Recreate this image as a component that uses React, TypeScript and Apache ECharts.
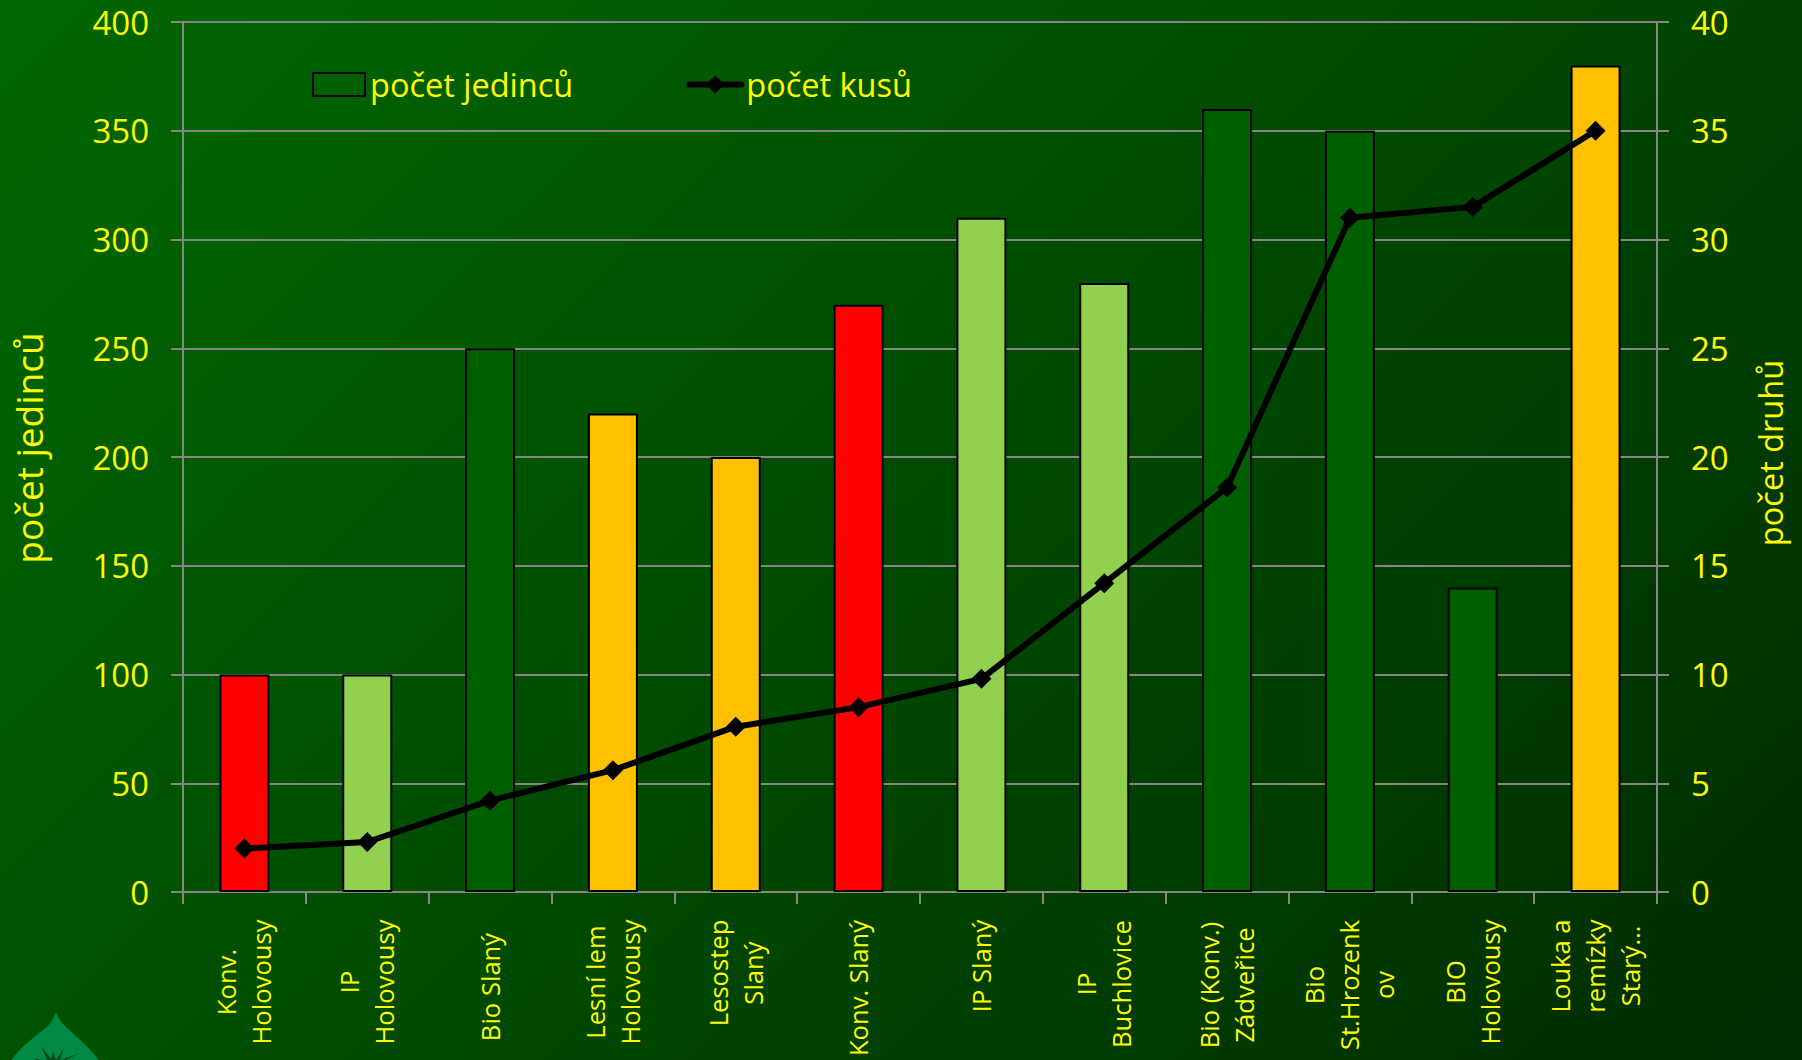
import React, { useEffect, useRef } from "react";
import * as echarts from "echarts";

const categories = [
  "Konv.\nHolovousy", "IP\nHolovousy", "Bio Slaný", "Lesní lem\nHolovousy", "Lesostep\nSlaný", "Konv. Slaný",
  "IP Slaný", "IP\nBuchlovice", "Bio (Konv.)\nZádveřice", "Bio\nSt.Hrozenk\nov", "BIO\nHolovousy", "Louka a\nremízky\nStarý…",
];
const jedincu = [100, 100, 250, 220, 200, 270, 310, 280, 360, 350, 140, 380];
const kusu = [2, 2.3, 4.2, 5.6, 7.6, 8.5, 9.8, 14.2, 18.6, 31, 31.5, 35];
const RED = "#FF0000", LIGHT = "#92D050", DARK = "#006000", ORANGE = "#FFC000";
const barColors = [RED, LIGHT, DARK, ORANGE, ORANGE, RED, LIGHT, LIGHT, DARK, DARK, DARK, ORANGE];
const labelCentreShift = [16, 16, 21, 16, 7, 22, 0, 18, 19, 19, 16, 0];

const FONT = "'Open Sans'";
const YELLOW = "#FFFF00";
const GREY = "#868686";

const leafD =
  "M56 1012 C60 1024 70 1030 78 1038 C86 1045 93 1052 100 1062 L10 1062 C18 1050 28 1042 38 1034 C46 1028 52 1024 56 1012 Z";
const veinsD =
  "M41 1046 L52 1060 L47 1060 Z M64 1048 L60 1060 L56 1060 Z M53 1051 L56 1060 L51 1060 Z M80 1053 L66 1060 L61 1060 Z M34 1058 L42 1060 L36 1060 Z";

export default function App() {
  const ref = useRef<HTMLDivElement>(null);
  useEffect(() => {
    document.body.style.margin = "0";
    echarts.graphic.registerShape("leafShape", echarts.graphic.extendPath(leafD, {}) as any);
    echarts.graphic.registerShape("veinShape", echarts.graphic.extendPath(veinsD, {}) as any);
    const chart = echarts.init(ref.current!, undefined, { renderer: "svg" });
    const yAxisCommon = {
      type: "value" as const,
      nameLocation: "middle" as const,
      nameRotate: 90,
      axisLine: { show: true, lineStyle: { color: GREY, width: 2 } },
      axisTick: { show: true, length: 12, lineStyle: { color: GREY, width: 2 } },
      nameTextStyle: { color: YELLOW, fontFamily: FONT, fontSize: 32 },
    };
    chart.setOption({
      animation: false,
      backgroundColor: new echarts.graphic.LinearGradient(0, 0, 1431, 1431, [
        { offset: 0, color: "#006500" },
        { offset: 0.15, color: "#006000" },
        { offset: 1, color: "#002C00" },
      ], true),
      graphic: [
        { type: "leafShape", x: 0, y: 0, silent: true, z: 0, style: { fill: "#008A45" } },
        { type: "veinShape", x: 0, y: 0, silent: true, z: 1, style: { fill: "#034A1C" } },
      ],
      legend: {
        left: 307,
        top: 63,
        itemGap: 113,
        itemWidth: 52,
        itemHeight: 23,
        textStyle: { color: YELLOW, fontFamily: FONT, fontSize: 32.5 },
        data: [
          { name: "počet jedinců", icon: "rect", itemStyle: { color: "#006000", borderColor: "#000", borderWidth: 2 } },
          { name: "počet kusů", lineStyle: { color: "#000", width: 6, cap: "round" } },
        ],
      },
      grid: { left: 183, right: 145, top: 22, bottom: 168, outerBoundsMode: "none" },
      xAxis: {
        type: "category",
        data: categories.map((c, i) => ({
          value: c,
          textStyle: { align: "center", verticalAlign: "middle", padding: [0, labelCentreShift[i] * 2, 0, 0] },
        })),
        axisLine: { lineStyle: { color: GREY, width: 2 } },
        axisTick: { show: true, alignWithLabel: false, length: 12, lineStyle: { color: GREY, width: 2 } },
        axisLabel: {
          interval: 0,
          rotate: 90,
          align: "center",
          verticalAlign: "middle",
          margin: 74,
          color: YELLOW,
          fontFamily: FONT,
          fontSize: 25.6,
          lineHeight: 35,
          hideOverlap: false,
        },
      },
      yAxis: [
        {
          ...yAxisCommon,
          name: "počet jedinců",
          nameGap: 136,
          min: 0,
          max: 400,
          interval: 50,
          nameTextStyle: { ...yAxisCommon.nameTextStyle, fontSize: 37, padding: [0, 0, 0, 18] },
          axisLabel: { color: YELLOW, fontFamily: FONT, fontSize: 33, margin: 34 },
          splitLine: { show: true, lineStyle: { color: GREY, width: 2 } },
        },
        {
          ...yAxisCommon,
          name: "počet druhů",
          nameGap: 97,
          min: 0,
          max: 40,
          interval: 5,
          nameTextStyle: { ...yAxisCommon.nameTextStyle, fontSize: 32.5, padding: [0, 0, 0, 8] },
          axisLabel: { color: YELLOW, fontFamily: FONT, fontSize: 33, margin: 34 },
          splitLine: { show: false },
        },
      ],
      series: [
        {
          name: "počet jedinců",
          type: "bar",
          barWidth: 50,
          data: jedincu.map((v, i) => ({ value: v, itemStyle: { color: barColors[i] } })),
          itemStyle: { color: "#006000", borderColor: "#000", borderWidth: 2 },
        },
        {
          name: "počet kusů",
          type: "line",
          yAxisIndex: 1,
          data: kusu,
          symbol: "diamond",
          symbolSize: 20,
          itemStyle: { color: "#000" },
          lineStyle: { color: "#000", width: 6, cap: "round" },
          z: 5,
        },
      ],
    });
    return () => chart.dispose();
  }, []);
  return <div ref={ref} style={{ position: "absolute", left: 0, top: 0, width: 1802, height: 1060 }} />;
}
